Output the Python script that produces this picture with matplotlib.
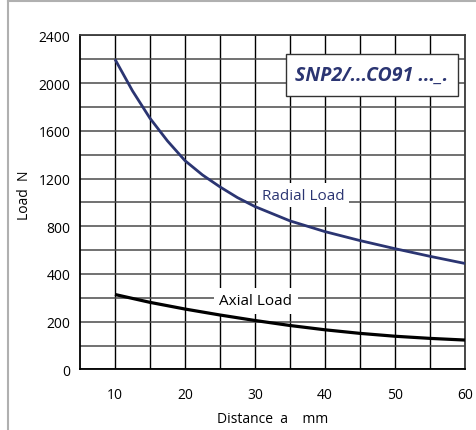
import numpy as np
import matplotlib
matplotlib.use("Agg")
import matplotlib.pyplot as plt
from matplotlib.lines import Line2D
from matplotlib.patches import Rectangle

plt.rcParams['font.family'] = ['Open Sans', 'DejaVu Sans']

# Distance a (mm) and permissible loads (N)
radial_a = [10, 12.5, 15, 17.5, 20, 22.5, 25, 27.5, 30, 35, 40, 45, 50, 55, 60]
radial_load = [2200, 1935, 1705, 1515, 1350, 1230, 1130, 1040, 965, 845, 755, 680,
               612, 548, 488]

axial_a = [10, 15, 20, 25, 30, 35, 40, 45, 50, 55, 60]
axial_load = [314, 281, 253, 228, 205, 184, 166, 151, 139, 130, 123]

x_ticks = [10, 20, 30, 40, 50, 60]
x_minor = [15, 25, 35, 45, 55]
y_ticks = [0, 200, 400, 800, 1200, 1600, 2000, 2400]
y_minor = [100, 300, 600, 1000, 1400, 1800, 2200]

navy = '#2b3572'


def fwd(v):
    v = np.asarray(v, dtype=float)
    return np.where(v <= 400, v / 100.0, 4 + (v - 400) / 200.0)


def inv(u):
    u = np.asarray(u, dtype=float)
    return np.where(u <= 4, u * 100.0, 400 + (u - 4) * 200.0)


fig = plt.figure(figsize=(4.77, 4.31), dpi=100)
ax = fig.add_axes([80 / 477, 1 - 370.4 / 431, 385 / 477, 334 / 431])
ax.set_yscale('function', functions=(fwd, inv))
ax.set_xlim(5, 60)
ax.set_ylim(0, 2400)

ax.set_xticks(x_ticks)
ax.set_xticks(x_minor, minor=True)
ax.set_yticks(y_ticks)
ax.set_yticks(y_minor, minor=True)
ax.set_yticklabels([str(t) for t in y_ticks])
ax.tick_params(axis='both', which='both', length=0, labelsize=10)
ax.tick_params(axis='x', pad=13)
ax.tick_params(axis='y', pad=7)

ax.grid(True, axis='x', which='both', color='black', lw=1.0, zorder=1)
ax.grid(True, axis='y', which='both', color='#4a4a4a', lw=1.1, zorder=1)
ax.set_axisbelow(True)

for side in ['left', 'bottom']:
    ax.spines[side].set_color('black')
    ax.spines[side].set_linewidth(1.3)
for side in ['right', 'top']:
    ax.spines[side].set_color('#3a3a3a')
    ax.spines[side].set_linewidth(1.3)

ax.plot(radial_a, radial_load, color=navy, lw=2.0, zorder=4, solid_capstyle='butt')
ax.plot(axial_a, axial_load, color='black', lw=2.3, zorder=4, solid_capstyle='butt')

ax.text(36.9, 1062, 'Radial Load', color=navy, fontsize=11, ha='center', va='center',
        zorder=3, bbox=dict(facecolor='white', edgecolor='none', pad=3))
ax.text(30.1, 287, 'Axial Load', color='black', fontsize=11, ha='center', va='center',
        zorder=3, bbox=dict(facecolor='white', edgecolor='none', pad=4))

ax.add_patch(Rectangle((0.535, 0.8186), 0.447, 0.1257, transform=ax.transAxes,
                       facecolor='white', edgecolor='#333333', lw=1.0, zorder=5))
ax.text(0.758, 0.881, 'SNP2/...CO91 ..._.', transform=ax.transAxes, color=navy,
        fontsize=14, fontweight='bold', fontstyle='italic', ha='center', va='center',
        zorder=6)

ax.set_xlabel('Distance  a    mm', fontsize=10, labelpad=6)
ax.set_ylabel('Load  N', fontsize=10)
ax.yaxis.set_label_coords(-0.125, 0.525)

# outer frame lines
fig.add_artist(Line2D([8 / 477, 8 / 477], [0, 1 - 2 / 431], color='#b0b0b0', lw=1.5))
fig.add_artist(Line2D([8 / 477, 1], [1 - 2 / 431, 1 - 2 / 431], color='#b0b0b0', lw=1.5))

fig.savefig('out.png', dpi=100)
